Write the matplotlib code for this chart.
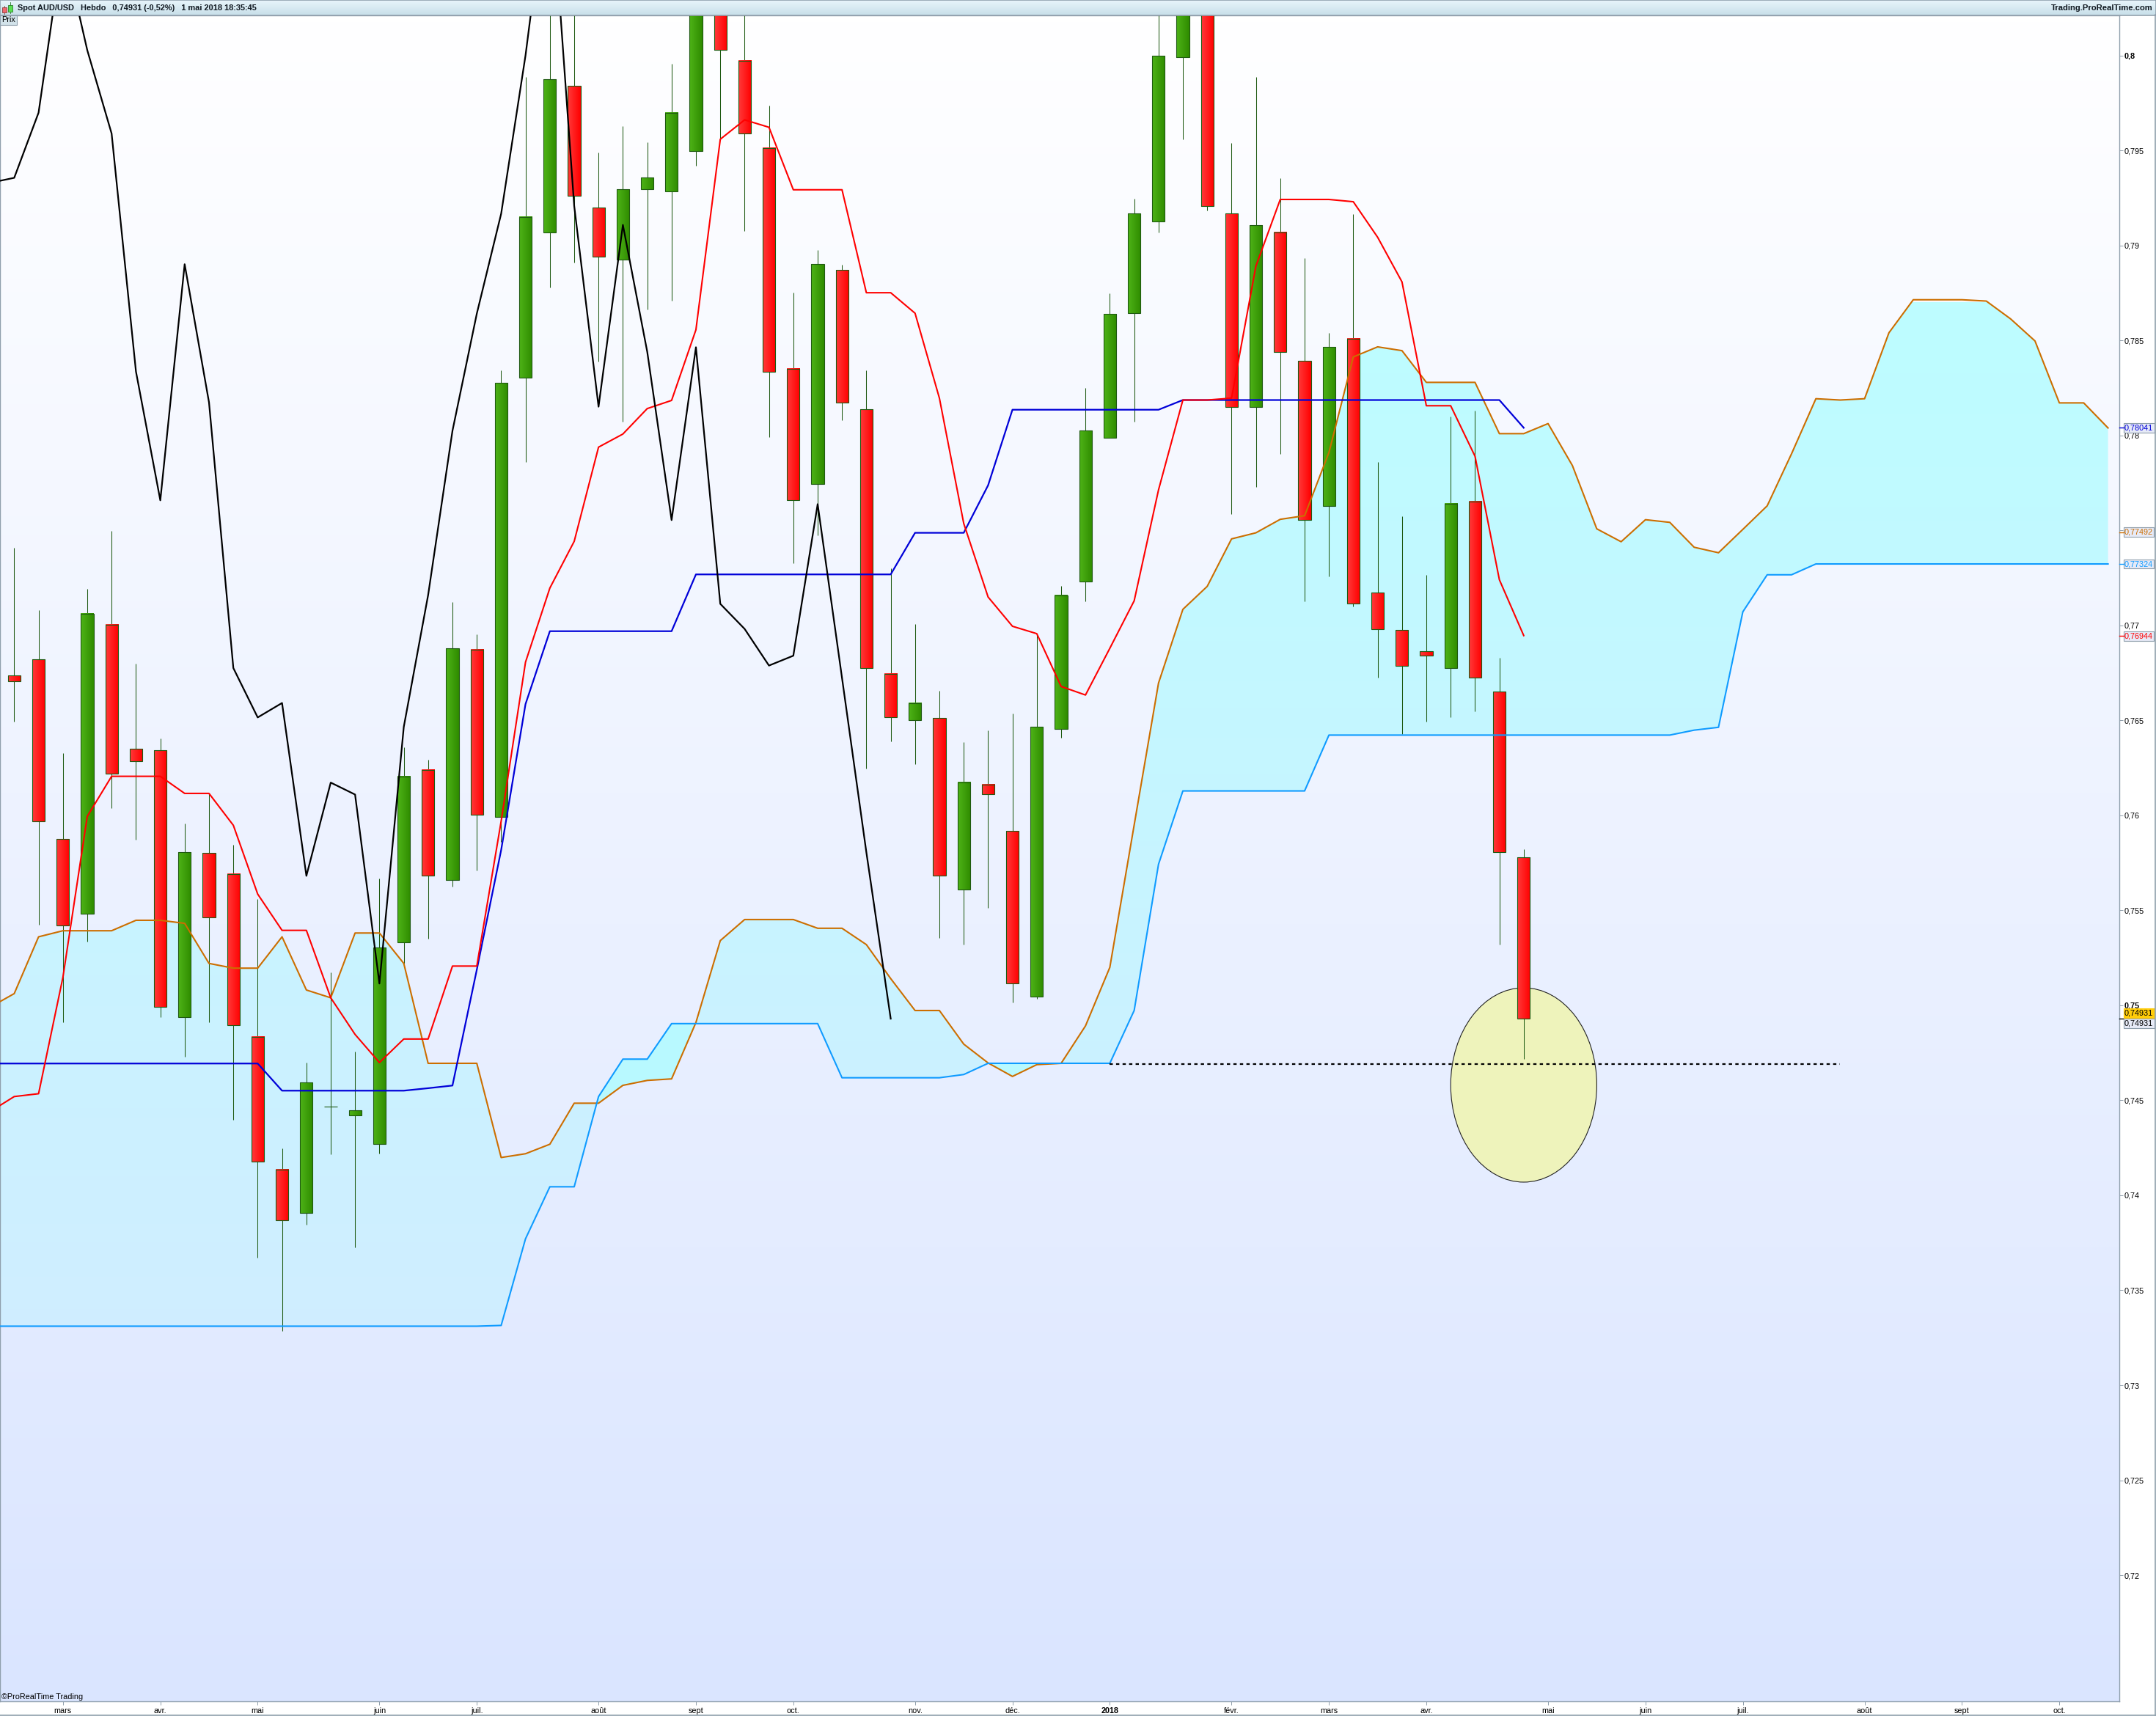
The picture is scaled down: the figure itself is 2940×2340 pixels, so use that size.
import matplotlib
matplotlib.use('Agg')
import matplotlib.pyplot as plt
import numpy as np
from matplotlib.patches import Ellipse, Rectangle
from matplotlib.path import Path

plt.rcParams['font.family'] = ['Liberation Sans', 'DejaVu Sans']

W, H = 2940, 2340
PLOT_RIGHT, PLOT_TOP, PLOT_BOTTOM = 2890, 21, 2320

# weekly candles, index 0 = first visible week
opens = [.76738, .76821, .75875, .75481, .77004, .7635, .76342, .74938, .75802, .7569,
         .74833, .74134, .73909, .74466, .74422, .74272, .75333, .76238, .75662, .76874,
         .75991, .78303, .79071, .7984, .79201, .78928, .79296, .79284, .79499, .8059,
         .79974, .79515, .78352, .77744, .78871, .78138, .76744, .765, .76512, .75609,
         .76161, .75917, .75048, .76455, .7723, .7799, .78646, .79129, .79993, .81,
         .79168, .78152, .79071, .78392, .77631, .78508, .77172, .76978, .76864, .76774,
         .77651, .76651, .75779]
highs = [.7741, .77081, .76328, .77191, .77498, .76799, .76405, .75958, .76114, .75846,
         .7556, .74247, .74699, .75174, .74757, .75666, .7636, .76293, .77124, .76955,
         .78343, .79887, .8035, .803, .79491, .79629, .79544, .79958, .8075, .8075,
         .8045, .79737, .78752, .78975, .789, .78345, .77301, .77008, .76657, .76386,
         .76449, .76537, .76949, .77208, .7825, .78748, .79247, .8045, .812, .812,
         .7954, .79887, .79355, .78934, .7854, .79166, .7786, .77576, .77267, .781,
         .78132, .76831, .75822]
lows = [.76494, .75424, .74912, .75335, .76039, .75873, .74939, .74729, .74912, .74399,
        .73673, .73286, .73846, .74217, .73727, .74221, .75221, .75351, .75627, .7571,
        .75861, .77862, .78778, .78912, .78388, .78073, .78664, .78711, .7942, .79556,
        .79077, .77992, .77328, .77474, .78081, .76248, .76391, .76271, .75357, .75322,
        .75515, .75014, .75034, .76409, .77126, .7799, .78073, .79071, .7956, .79184,
        .77588, .7773, .77903, .77126, .77257, .77099, .76724, .76429, .76494, .76518,
        .76549, .75322, .74719]
closes = [.76708, .75968, .7542, .77063, .76218, .76285, .74991, .75806, .75465, .74894,
          .74176, .73867, .74593, .74466, .74447, .75306, .76206, .75682, .76882, .76005,
          .78276, .79152, .79875, .79261, .78943, .79296, .79357, .797, .8059, .80029,
          .7959, .78337, .77659, .78902, .78175, .76776, .76516, .76592, .75682, .76173,
          .7611, .75115, .76466, .7716, .78025, .78642, .79168, .80001, .81, .79209,
          .78152, .79109, .78441, .77555, .78465, .77114, .76982, .76789, .76841, .77639,
          .76724, .75806, .7493]

# ichimoku lines, all start one week before the first candle (index -1)
chikou = [.7933, .79357, .797, .8059, .80029, .7959, .78337, .77659, .78902, .78175,
          .76776, .76516, .76592, .75682, .76173, .7611, .75115, .76466, .7716, .78025,
          .78642, .79168, .80001, .81, .79209, .78152, .79109, .78441, .77555, .78465,
          .77114, .76982, .76789, .76841, .77639, .76724, .75806, .7493]
tenkan = [.7444, .7452, .74535, .75148, .75995, .76206, .76206, .76206, .76116, .76116,
          .75948, .75586, .75395, .75395, .7504, .74847, .74699, .74823, .74823, .75207,
          .75207, .7597, .76807, .77197, .77443, .77939, .78008, .78142, .78185, .78557,
          .7956, .79662, .79623, .79294, .79294, .79294, .78752, .78752, .78644, .78197,
          .77537, .7715, .76996, .76957, .76679, .76634, .7688, .7713, .77714, .78187,
          .78187, .78197, .78892, .79243, .79243, .79243, .79231, .79044, .78809, .78157,
          .78157, .77891, .77241, .76947]
kijun = [.74694, .74694, .74694, .74694, .74694, .74694, .74694, .74694, .74694, .74694,
         .74694, .74694, .74551, .74551, .74551, .74551, .74551, .74551, .74564, .74578,
         .75188, .75818, .76586, .7697, .7697, .7697, .7697, .7697, .7697, .77269,
         .77269, .77269, .77269, .77269, .77269, .77269, .77269, .77269, .77488, .77488,
         .77488, .77738, .78136, .78136, .78136, .78136, .78136, .78136, .78136, .78187,
         .78187, .78187, .78187, .78187, .78187, .78187, .78187, .78187, .78187, .78187,
         .78187, .78187, .78187, .78041]
senkou_a = [.7499, .75062, .75361, .75393, .75393, .75393, .75448, .75448, .75432, .75221,
            .75196, .75196, .75361, .75081, .7504, .75381, .75381, .75221, .74695, .74695,
            .74695, .74199, .74219, .74269, .74485, .74485, .74579, .74605, .74613, .7491,
            .75341, .75452, .75452, .75452, .75406, .75406, .7532, .75141, .74973, .74973,
            .74796, .74697, .74626, .74688, .74695, .74892, .752, .7595, .76697, .77085,
            .77206, .77456, .77488, .77559, .77578, .77911, .78414, .78467, .78447, .7828,
            .7828, .7828, .7801, .7801, .78063, .77842, .77509, .77441, .77557, .77543,
            .77412, .77383, .77506, .7763, .77904, .78194, .78187, .78194, .78541, .78715,
            .78715, .78715, .78708, .78614, .78498, .78172, .78172, .7804]
senkou_b = [.73311, .73311, .73311, .73311, .73311, .73311, .73311, .73311, .73311, .73311,
            .73311, .73311, .73311, .73311, .73311, .73311, .73311, .73311, .73311, .73311,
            .73311, .73315, .73771, .74045, .74045, .7452, .74717, .74717, .74904, .74904,
            .74904, .74904, .74904, .74904, .74904, .74619, .74619, .74619, .74619, .74619,
            .74636, .74695, .74695, .74695, .74695, .74695, .74695, .74973, .75743, .76129,
            .76129, .76129, .76129, .76129, .76129, .76423, .76423, .76423, .76423, .76423,
            .76423, .76423, .76423, .76423, .76423, .76423, .76423, .76423, .76423, .76423,
            .76449, .76464, .77072, .77267, .77267, .77324, .77324, .77324, .77324, .77324,
            .77324, .77324, .77324, .77324, .77324, .77324, .77324, .77324]

support_level = .74691
support_start, support_end = 45, 75
circle_center = (62, .74581)
circle_size = (6.0, .01023)

month_pos = [2, 6, 10, 15, 19, 24, 28, 32, 37, 41, 45, 50, 54, 58, 63, 67, 71, 76, 80, 84]
month_labels = ['mars', 'avr.', 'mai', 'juin', 'juil.', 'août', 'sept', 'oct.', 'nov.', 'déc.',
                '2018', 'févr.', 'mars', 'avr.', 'mai', 'juin', 'juil.', 'août', 'sept', 'oct.']
price_ticks = [.72, .725, .73, .735, .74, .745, .75, .755, .76, .765, .77, .775, .78, .785, .79, .795, .8]
price_labels = ['0,72', '0,725', '0,73', '0,735', '0,74', '0,745', '0,75', '0,755', '0,76', '0,765',
                '0,77', '0,775', '0,78', '0,785', '0,79', '0,795', '0,8']

# values shown in the boxes of the price axis
last_values = [.78041, .77492, .77324, .76944]
last_colors = ['#0000d8', '#cc6e00', '#0f9bff', '#ff0000']
last_price = .74931

TITLE = 'Spot AUD/USD   Hebdo   0,74931 (-0,52%)   1 mai 2018 18:35:45'

GRAY = '#8f9fac'
WICK = '#1f5a12'
FONT_SIZE = 7.8


def hex_rgb(color):
    return np.array(matplotlib.colors.to_rgb(color))


def gradient(start, end, n, axis):
    t = np.linspace(0, 1, n)[:, None]
    rgb = hex_rgb(start) * (1 - t) + hex_rgb(end) * t
    return rgb[None, :, :] if axis == 'x' else rgb[:, None, :]


fig = plt.figure(figsize=(W / 100, H / 100), dpi=100, facecolor='white')
ax = fig.add_axes([0, 1 - PLOT_BOTTOM / H, PLOT_RIGHT / W, (PLOT_BOTTOM - PLOT_TOP) / H])

xmin, xmax = -19.4 / 33.2, (PLOT_RIGHT - 19.4) / 33.2
ymin, ymax = .71336, .80212

ax.imshow(gradient('#ffffff', '#dae5ff', 256, 'y'), extent=(xmin, xmax, ymin, ymax),
          aspect='auto', zorder=0)

# cloud, two fills depending on which span is on top
x_a = np.arange(-1, len(senkou_a) - 1)
a = np.array(senkou_a)
b = np.array(senkou_b)
up = ax.fill_between(x_a, a, b, where=a >= b, interpolate=True, facecolor='none', edgecolor='none')
down = ax.fill_between(x_a, a, b, where=a < b, interpolate=True, facecolor='none', edgecolor='none')
img_up = ax.imshow(gradient('#bdfdff', '#d2ecff', 256, 'y'), extent=(xmin, xmax, .727, .787),
                   aspect='auto', zorder=1)
img_up.set_clip_path(Path.make_compound_path(*up.get_paths()), transform=ax.transData)
img_down = ax.imshow(gradient('#b8f9ff', '#b8f9ff', 2, 'y'), extent=(xmin, xmax, ymin, ymax),
                     aspect='auto', zorder=1)
img_down.set_clip_path(Path.make_compound_path(*down.get_paths()), transform=ax.transData)

ax.add_patch(Ellipse(circle_center, circle_size[0], circle_size[1], facecolor='#eef3bb',
                     edgecolor='#222222', linewidth=0.8, zorder=2))

body_w = 0.52
for i, (o, h, l, c) in enumerate(zip(opens, highs, lows, closes)):
    top, bot = max(o, c), min(o, c)
    ax.plot([i, i], [l, h], color=WICK, linewidth=0.75, zorder=3, solid_capstyle='butt')
    if c >= o:
        colors = ('#4eb317', '#2f8c00')
    else:
        colors = ('#ff3a3a', '#ff0000')
    if top > bot:
        ax.imshow(gradient(colors[0], colors[1], 32, 'x'), aspect='auto', zorder=3.1,
                  extent=(i - body_w / 2, i + body_w / 2, bot, top))
    ax.add_patch(Rectangle((i - body_w / 2, bot), body_w, top - bot, facecolor='none',
                           edgecolor=WICK, linewidth=0.8, zorder=3.2))

ax.plot(x_a, senkou_a, color='#cc6e00', linewidth=1.5, zorder=4)
ax.plot(x_a, senkou_b, color='#0f9bff', linewidth=1.5, zorder=4)
ax.plot(np.arange(-1, len(kijun) - 1), kijun, color='#0000d8', linewidth=1.6, zorder=4.1)
ax.plot(np.arange(-1, len(tenkan) - 1), tenkan, color='#ff0000', linewidth=1.5, zorder=4.2)
ax.plot(np.arange(-1, len(chikou) - 1), chikou, color='#000000', linewidth=1.6, zorder=4.3)
ax.plot([support_start, support_end], [support_level, support_level], color='black',
        linewidth=1.6, dashes=(2, 2), zorder=5)

ax.set_xlim(xmin, xmax)
ax.set_ylim(ymin, ymax)
ax.yaxis.tick_right()
ax.set_xticks(month_pos)
ax.set_xticklabels(month_labels)
ax.set_yticks(price_ticks)
ax.set_yticklabels(price_labels)
ax.tick_params(axis='both', length=3.6, width=0.7, color=GRAY, labelsize=FONT_SIZE, labelcolor='black')
ax.tick_params(axis='x', pad=2.5)
ax.tick_params(axis='y', pad=1.5)
for label in ax.get_xticklabels():
    if label.get_text() == '2018':
        label.set_fontweight('bold')
for label in ax.get_yticklabels():
    if label.get_text() in ('0,8', '0,75'):
        label.set_fontweight('bold')
for spine in ax.spines.values():
    spine.set_color(GRAY)
    spine.set_linewidth(1.0)

# boxes on the price axis
box_style = dict(boxstyle='square,pad=0.13', facecolor='#e6eaf7', edgecolor=GRAY, linewidth=0.8)
for value, color in zip(last_values, last_colors):
    ax.annotate(f'{value:.5f}'.replace('.', ','), xy=(1, value), xycoords=ax.get_yaxis_transform(),
                xytext=(5.0, 0), textcoords='offset points', va='center', ha='left', color=color,
                fontsize=FONT_SIZE, annotation_clip=False, bbox=box_style)
    ax.plot([1, 1.002], [value, value], color=color, linewidth=1.0, clip_on=False,
            transform=ax.get_yaxis_transform(), zorder=6)
ax.plot([1, 1.002], [last_price, last_price], color='black', linewidth=1.0, clip_on=False,
        transform=ax.get_yaxis_transform(), zorder=6)
ax.annotate(f'{last_price:.5f}'.replace('.', ','), xy=(1, last_price), xycoords=ax.get_yaxis_transform(),
            xytext=(5.0, 5), textcoords='offset points', va='center', ha='left', color='black',
            fontsize=FONT_SIZE, annotation_clip=False, zorder=7,
            bbox=dict(boxstyle='square,pad=0.13', facecolor='#ffcc0a', edgecolor='#ffcc0a', linewidth=0.8))
ax.annotate(f'{last_price:.5f}'.replace('.', ','), xy=(1, last_price), xycoords=ax.get_yaxis_transform(),
            xytext=(5.0, -5), textcoords='offset points', va='center', ha='left', color='black',
            fontsize=FONT_SIZE, annotation_clip=False, zorder=6.5, bbox=box_style)

# window chrome drawn in pixel coordinates
chrome = fig.add_axes([0, 0, 1, 1], facecolor='none')
chrome.imshow(gradient('#e8f5fb', '#c9e0ea', 32, 'y'), extent=(0, W, 20, 0), aspect='auto', zorder=1)
chrome.add_patch(Rectangle((0, 0), W, 20.5, facecolor='none', edgecolor=GRAY, linewidth=1.2, zorder=2))
chrome.add_patch(Rectangle((3, 10), 6, 7, facecolor='#f0686e', edgecolor='#8a3a3a', linewidth=0.6, zorder=3))
chrome.plot([6, 6], [8, 19], color='#8a3a3a', linewidth=0.6, zorder=2.5)
chrome.add_patch(Rectangle((11, 7), 6, 9, facecolor='#58e050', edgecolor='#2a7a2a', linewidth=0.6, zorder=3))
chrome.plot([14, 14], [3, 18], color='#2a7a2a', linewidth=0.6, zorder=2.5)
chrome.text(24, 11, TITLE, fontsize=7.9, fontweight='bold', va='center', ha='left', color='#101820', zorder=3)
chrome.text(2936, 11, 'Trading.ProRealTime.com', fontsize=8.1, fontweight='bold', va='center', ha='right',
            color='#101820', zorder=3)
chrome.add_patch(Rectangle((0, 21), 23, 13, facecolor='#d2e2ea', edgecolor=GRAY, linewidth=0.8, zorder=3))
chrome.text(2.5, 27.5, 'Prix', fontsize=FONT_SIZE, va='center', ha='left', color='black', zorder=4)
chrome.text(2, 2314, '©ProRealTime Trading', fontsize=FONT_SIZE, va='center', ha='left', color='black', zorder=4)
chrome.plot([0, W], [2339, 2339], color=GRAY, linewidth=1.2, zorder=3)
chrome.plot([2939, 2939], [20, 2339], color=GRAY, linewidth=1.2, zorder=3)
chrome.set_xlim(0, W)
chrome.set_ylim(H, 0)
chrome.axis('off')

fig.savefig('out.png', dpi=100)
